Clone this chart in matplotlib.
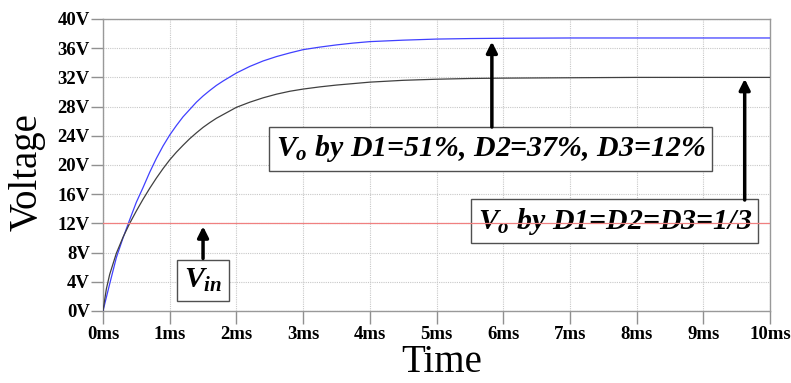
import numpy as np
import matplotlib
matplotlib.use("Agg")
import matplotlib.pyplot as plt

# values
t_unequal = [0, 0.1, 0.2, 0.3, 0.4, 0.5, 0.6, 0.7, 0.8, 0.9, 1.0, 1.1, 1.2, 1.3, 1.4, 1.5,
             1.6, 1.7, 1.8, 1.9, 2.0, 2.2, 2.4, 2.6, 2.8, 3.0, 3.25, 3.5, 3.75, 4.0, 4.5,
             5.0, 5.5, 6.0, 7.0, 8.0, 9.0, 10.0]
v_unequal = [0, 3.7, 7.3, 10.0, 12.5, 14.9, 16.9, 19.0, 20.9, 22.6, 24.1, 25.4, 26.6, 27.6,
             28.6, 29.45, 30.2, 30.9, 31.5, 32.05, 32.6, 33.5, 34.25, 34.85, 35.35, 35.8,
             36.15, 36.45, 36.7, 36.9, 37.1, 37.25, 37.32, 37.36, 37.4, 37.4, 37.4, 37.4]

t_equal = [0, 0.05, 0.1, 0.2, 0.3, 0.4, 0.5, 0.6, 0.7, 0.8, 0.9, 1.0, 1.1, 1.2, 1.3, 1.4,
           1.5, 1.6, 1.7, 1.8, 1.9, 2.0, 2.2, 2.4, 2.6, 2.8, 3.0, 3.25, 3.5, 3.75, 4.0,
           4.5, 5.0, 5.5, 6.0, 7.0, 8.0, 9.0, 10.0]
v_equal = [0, 3.0, 5.0, 7.9, 10.1, 12.0, 13.7, 15.3, 16.8, 18.2, 19.5, 20.7, 21.75, 22.7,
           23.6, 24.4, 25.15, 25.8, 26.4, 26.9, 27.4, 27.9, 28.6, 29.2, 29.7, 30.1, 30.4,
           30.7, 30.95, 31.15, 31.35, 31.6, 31.75, 31.85, 31.9, 31.95, 32.0, 32.0, 32.0]

t_in = [0, 10]
v_in = [12, 12]

x_ticks = [0, 1, 2, 3, 4, 5, 6, 7, 8, 9, 10]
x_labels = ["0ms", "1ms", "2ms", "3ms", "4ms", "5ms", "6ms", "7ms", "8ms", "9ms", "10ms"]
y_ticks = [0, 4, 8, 12, 16, 20, 24, 28, 32, 36, 40]
y_labels = ["0V", "4V", "8V", "12V", "16V", "20V", "24V", "28V", "32V", "36V", "40V"]

plt.rcParams['font.family'] = ['Liberation Serif', 'DejaVu Serif']
plt.rcParams['mathtext.fontset'] = 'custom'
plt.rcParams['mathtext.it'] = 'Liberation Serif:italic:bold'
plt.rcParams['mathtext.rm'] = 'Liberation Serif:italic:bold'

fig = plt.figure(figsize=(7.91, 3.83), dpi=100)
ax = fig.add_axes([0.1302, 0.188, 0.8433, 0.7624])

ax.plot(t_unequal, v_unequal, color='#4040ff', lw=0.9, zorder=3)
ax.plot(t_equal, v_equal, color='#404040', lw=0.9, zorder=3)
ax.plot(t_in, v_in, color='#f08080', lw=0.9, zorder=8)

ax.set_xlim(0, 10)
ax.set_ylim(0, 40)
ax.set_xticks(x_ticks)
ax.set_xticklabels(x_labels, fontweight='bold', fontsize=13.5)
ax.set_yticks(y_ticks)
ax.set_yticklabels(y_labels, fontweight='bold', fontsize=13.5)
ax.tick_params(axis='both', direction='out', length=9, width=1, color='#909090')
ax.tick_params(axis='y', pad=0.5)
ax.tick_params(axis='x', pad=2)
ax.grid(True, color='#c8c8c8', linestyle=(0, (1, 1)), lw=0.8)
ax.set_axisbelow(True)
for sp in ax.spines.values():
    sp.set_color('#999999')
    sp.set_linewidth(1)

fig.text(27 / 791, 1 - 172 / 383, "Voltage", rotation=90, fontsize=28,
         ha='center', va='center')
fig.text(442 / 791, 1 - 363 / 383, "Time", fontsize=28, ha='center', va='center')

box = dict(boxstyle='square,pad=0.22', fc='white', ec='#505050', lw=1)
txt_kw = dict(fontsize=21.5, fontweight='bold', fontstyle='italic', ha='center',
              va='center', bbox=box, zorder=6)
ax.text(1.50, 4.2, r"$V_{in}$", **txt_kw)
ax.text(5.81, 22.2, r"$V_o$ by D1=51%, D2=37%, D3=12%", **txt_kw)
ax.text(7.67, 12.3, r"$V_o$ by D1=D2=D3=1/3", **txt_kw)

arrow = dict(arrowstyle='-|>', lw=2.5, color='black', mutation_scale=16,
             shrinkA=0, shrinkB=0)
ax.annotate('', xy=(1.50, 11.6), xytext=(1.50, 7.2), arrowprops=arrow, zorder=7)
ax.annotate('', xy=(5.83, 36.9), xytext=(5.83, 25.2), arrowprops=arrow, zorder=7)
ax.annotate('', xy=(9.62, 31.8), xytext=(9.62, 15.2), arrowprops=arrow, zorder=7)

fig.savefig('out.png', dpi=100)
